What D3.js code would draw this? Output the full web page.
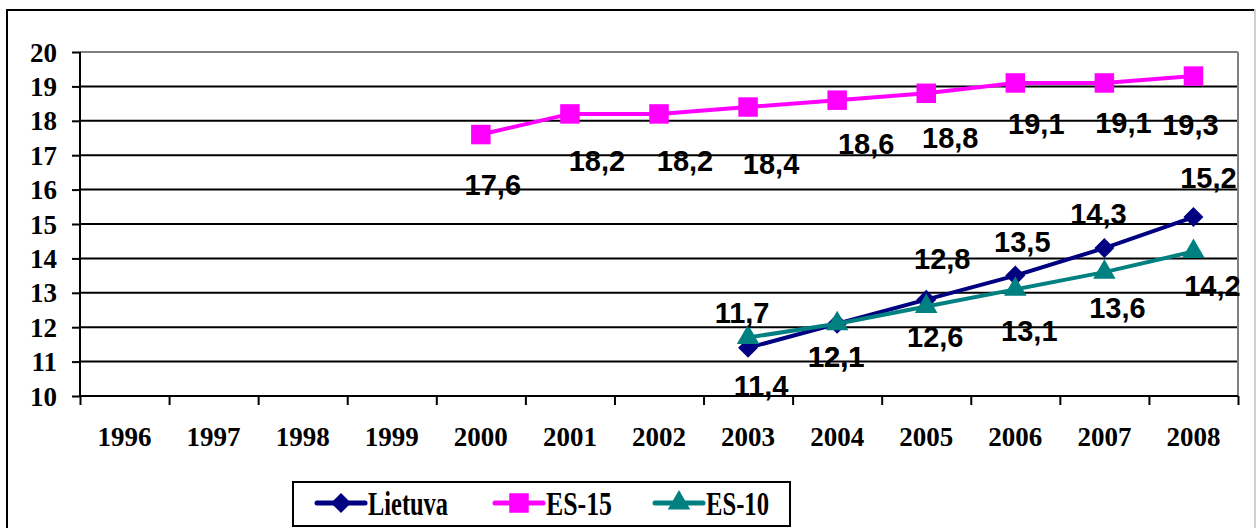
<!DOCTYPE html>
<html>
<head>
<meta charset="utf-8">
<script src="https://cdn.jsdelivr.net/npm/d3@7"></script>
<style>
  body { margin: 0; background: #fff; }
  .serif { font-family: "Liberation Serif", "Times New Roman", serif; font-weight: bold; }
  .lbl { font-family: "Liberation Sans", Arial, sans-serif; font-weight: bold; font-size: 29px; }
</style>
</head>
<body>
<div id="root"></div>
<script>
// data
var years = ["1996", "1997", "1998", "1999", "2000", "2001", "2002", "2003", "2004", "2005", "2006", "2007", "2008"];
var lietuva = [null, null, null, null, null, null, null, 11.4, 12.1, 12.8, 13.5, 14.3, 15.2];
var es15 = [null, null, null, null, 17.6, 18.2, 18.2, 18.4, 18.6, 18.8, 19.1, 19.1, 19.3];
var es10 = [null, null, null, null, null, null, null, 11.7, 12.1, 12.6, 13.1, 13.6, 14.2];
var yTicks = [10, 11, 12, 13, 14, 15, 16, 17, 18, 19, 20];

// where excel dropped the value labels (offset from the point, px)
var lietuvaLabelOff = [null, null, null, null, null, null, null, [13, 38], [-1, 33], [16, -41], [7, -34], [-6, -35], [15, -40]];
var es15LabelOff = [null, null, null, null, [12, 50], [27, 47], [26, 47], [23, 57], [29, 43], [24, 44], [21, 41], [19, 40], [-3, 48]];
var es10LabelOff = [null, null, null, null, null, null, null, [-6, -25], [-1, 33], [9, 30], [14, 41], [13, 35], [19, 34]];

var w = 1256, h = 528;
var plot = { left: 80, right: 1238, top: 52, bottom: 396 };

var svg = d3.select("#root").append("svg").attr("width", w).attr("height", h);

// outer chart frame: black top/left, light gray right
svg.append("path").attr("d", "M7," + h + "V10H1254")
  .attr("fill", "none").attr("stroke", "black").attr("stroke-width", 2);
svg.append("line").attr("x1", 1255).attr("x2", 1255).attr("y1", 9).attr("y2", h)
  .attr("stroke", "#d0d0d0").attr("stroke-width", 2);

var xBand = d3.scaleBand().domain(years).range([plot.left, plot.right]);
var xEdge = d3.scaleLinear().domain([0, years.length]).range([plot.left, plot.right]);
var yScale = d3.scaleLinear().domain([10, 20]).range([plot.bottom, plot.top]);

// grid lines
svg.append("g").selectAll("line").data(yTicks.slice(1, -1)).enter().append("line")
  .attr("x1", plot.left).attr("x2", plot.right)
  .attr("y1", function(d) { return yScale(d); }).attr("y2", function(d) { return yScale(d); })
  .attr("stroke", "black").attr("stroke-width", 2);

// plot area border (gray top / right)
svg.append("line").attr("x1", plot.left).attr("x2", plot.right).attr("y1", plot.top).attr("y2", plot.top)
  .attr("stroke", "#808080").attr("stroke-width", 2);
svg.append("line").attr("x1", plot.right).attr("x2", plot.right).attr("y1", plot.top).attr("y2", plot.bottom)
  .attr("stroke", "#808080").attr("stroke-width", 2);

// y axis
var yAxis = d3.axisLeft(yScale).tickValues(yTicks).tickSize(8).tickPadding(15).tickFormat(d3.format("d"));
var gy = svg.append("g").attr("transform", "translate(" + plot.left + ",0)").call(yAxis);
gy.select(".domain").attr("stroke", "black").attr("stroke-width", 2).attr("d", "M0," + plot.top + "V" + plot.bottom);
gy.selectAll(".tick line").attr("stroke", "black").attr("stroke-width", 2);
gy.selectAll(".tick text").attr("class", "serif").style("font-size", "27px").attr("fill", "black").attr("dy", "0.34em");

// x axis: ticks at category edges, labels in the middle
var xAxis = d3.axisBottom(xEdge).tickValues(d3.range(years.length + 1)).tickSize(9).tickFormat("");
var gx = svg.append("g").attr("transform", "translate(0," + plot.bottom + ")").call(xAxis);
gx.select(".domain").attr("stroke", "black").attr("stroke-width", 2).attr("d", "M" + plot.left + ",0H" + plot.right);
gx.selectAll(".tick line").attr("stroke", "black").attr("stroke-width", 2);

svg.append("g").selectAll("text").data(years).enter().append("text")
  .attr("class", "serif").style("font-size", "27px").attr("text-anchor", "middle")
  .attr("x", function(d) { return xBand(d) + xBand.bandwidth() / 2; })
  .attr("y", 446)
  .text(function(d) { return d; });

var series = [
  { name: "Lietuva", values: lietuva, off: lietuvaLabelOff, color: "#000080", symbol: d3.symbolDiamond, size: 150 },
  { name: "ES-15", values: es15, off: es15LabelOff, color: "#FF00FF", symbol: d3.symbolSquare, size: 380 },
  { name: "ES-10", values: es10, off: es10LabelOff, color: "#008080", symbol: d3.symbolTriangle, size: 220 }
];

function cx(i) { return xBand(years[i]) + xBand.bandwidth() / 2; }

var line = d3.line()
  .defined(function(d) { return d != null; })
  .x(function(d, i) { return cx(i); })
  .y(function(d) { return yScale(d); });

function markerPath(s) {
  if (s.symbol === d3.symbolDiamond) {
    // excel diamond
    return "M0,-10L10,0L0,10L-10,0Z";
  }
  return d3.symbol().type(s.symbol).size(s.size)();
}

series.forEach(function(s) {
  var g = svg.append("g");
  g.append("path").datum(s.values).attr("d", line)
    .attr("fill", "none").attr("stroke", s.color).attr("stroke-width", 4);
  g.selectAll("path.m").data(s.values.map(function(v, i) { return { v: v, i: i }; }).filter(function(d) { return d.v != null; }))
    .enter().append("path").attr("class", "m")
    .attr("d", markerPath(s))
    .attr("transform", function(d) { return "translate(" + cx(d.i) + "," + yScale(d.v) + ")"; })
    .attr("fill", s.color);
});

// value labels
series.forEach(function(s) {
  svg.append("g").selectAll("text")
    .data(s.values.map(function(v, i) { return { v: v, i: i, o: s.off[i] }; }).filter(function(d) { return d.v != null; }))
    .enter().append("text").attr("class", "lbl").attr("text-anchor", "middle").attr("dy", "0.36em")
    .attr("x", function(d) { return cx(d.i) + d.o[0]; })
    .attr("y", function(d) { return yScale(d.v) + d.o[1]; })
    .text(function(d) { return d3.format(".1f")(d.v).replace(".", ","); });
});

// legend
var lg = svg.append("g");
lg.append("rect").attr("x", 293).attr("y", 482).attr("width", 497).attr("height", 44)
  .attr("fill", "white").attr("stroke", "black").attr("stroke-width", 2);
var legendX = [317, 495, 655];
var legendW = [80, 66, 63];
series.forEach(function(s, k) {
  var x0 = legendX[k], yc = 503;
  lg.append("line").attr("x1", x0).attr("x2", x0 + 48).attr("y1", yc).attr("y2", yc)
    .attr("stroke", s.color).attr("stroke-width", 5).attr("stroke-linecap", "round");
  lg.append("path").attr("d", markerPath(s)).attr("fill", s.color)
    .attr("transform", "translate(" + (x0 + 24) + "," + yc + ")");
  lg.append("text").attr("class", "serif").style("font-size", "34px")
    .attr("x", x0 + 51).attr("y", yc + 12)
    .attr("textLength", legendW[k]).attr("lengthAdjust", "spacingAndGlyphs")
    .text(s.name);
});
</script>
</body>
</html>
